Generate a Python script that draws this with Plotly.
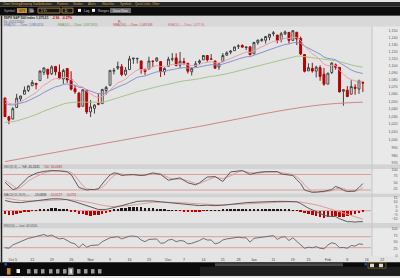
import plotly.graph_objects as go

W, H = 400, 278
FONT = "Liberation Sans, Arial, sans-serif"

# ---------------- data ----------------
dates = [
    "2009-10-01", "2009-10-02", "2009-10-05", "2009-10-06", "2009-10-07", "2009-10-08", "2009-10-09",
    "2009-10-12", "2009-10-13", "2009-10-14", "2009-10-15", "2009-10-16", "2009-10-19", "2009-10-20",
    "2009-10-21", "2009-10-22", "2009-10-23", "2009-10-26", "2009-10-27", "2009-10-28", "2009-10-29",
    "2009-10-30", "2009-11-02", "2009-11-03", "2009-11-04", "2009-11-05", "2009-11-06", "2009-11-09",
    "2009-11-10", "2009-11-11", "2009-11-12", "2009-11-13", "2009-11-16", "2009-11-17", "2009-11-18",
    "2009-11-19", "2009-11-20", "2009-11-23", "2009-11-24", "2009-11-25", "2009-11-27", "2009-11-30",
    "2009-12-01", "2009-12-02", "2009-12-03", "2009-12-04", "2009-12-07", "2009-12-08", "2009-12-09",
    "2009-12-10", "2009-12-11", "2009-12-14", "2009-12-15", "2009-12-16", "2009-12-17", "2009-12-18",
    "2009-12-21", "2009-12-22", "2009-12-23", "2009-12-24", "2009-12-28", "2009-12-29", "2009-12-30",
    "2009-12-31", "2010-01-04", "2010-01-05", "2010-01-06", "2010-01-07", "2010-01-08", "2010-01-11",
    "2010-01-12", "2010-01-13", "2010-01-14", "2010-01-15", "2010-01-19", "2010-01-20", "2010-01-21",
    "2010-01-22", "2010-01-25", "2010-01-26", "2010-01-27", "2010-01-28", "2010-01-29", "2010-02-01",
    "2010-02-02", "2010-02-03", "2010-02-04", "2010-02-05", "2010-02-08", "2010-02-09", "2010-02-10",
    "2010-02-11", "2010-02-12"]

opens = [1054.91, 1029.71, 1026.87, 1042.02, 1053.65, 1060.03, 1065.28, 1071.63, 1074.96, 1078.68, 1090.36,
         1094.67, 1088.22, 1098.64, 1090.36, 1080.96, 1095.62, 1080.36, 1067.54, 1061.51, 1043.69, 1065.41,
         1036.18, 1040.92, 1047.30, 1047.30, 1064.95, 1072.31, 1091.86, 1096.04, 1098.31, 1087.59, 1094.13,
         1109.22, 1109.44, 1106.44, 1094.66, 1094.86, 1105.83, 1106.49, 1105.47, 1091.07,
         1098.89, 1109.03, 1110.59, 1100.43, 1105.52, 1103.04, 1091.07, 1098.69, 1103.96, 1107.84, 1114.11,
         1108.61, 1106.36, 1097.86, 1105.31, 1114.51, 1118.84, 1121.08, 1127.53, 1128.55, 1125.53, 1126.60,
         1116.56, 1132.66, 1135.71, 1136.27, 1140.52, 1145.96, 1143.81, 1137.31, 1145.68, 1147.72, 1136.03,
         1147.95, 1138.68, 1115.49, 1092.40, 1095.80, 1091.94, 1096.93, 1087.61,
         1073.89, 1090.05, 1100.67, 1097.25, 1064.12, 1065.51, 1060.06, 1069.68, 1067.10, 1075.95]
highs = [1054.91, 1030.60, 1042.58, 1060.55, 1058.02, 1070.67, 1071.51, 1079.46, 1075.30, 1093.17, 1096.56,
         1094.67, 1100.17, 1098.64, 1101.36, 1095.21, 1095.83, 1091.75, 1072.48, 1063.26, 1066.83, 1065.41,
         1052.18, 1046.36, 1061.00, 1066.65, 1071.48, 1093.19, 1096.42, 1105.37, 1101.97, 1097.79, 1113.69,
         1110.52, 1111.10, 1106.44, 1094.66, 1112.38, 1107.56, 1111.18, 1105.47, 1097.24,
         1112.28, 1117.58, 1117.28, 1119.13, 1110.72, 1103.04, 1097.04, 1106.25, 1108.50, 1114.76, 1114.11,
         1116.21, 1106.36, 1103.74, 1117.68, 1120.27, 1121.58, 1126.48, 1130.38, 1130.38, 1126.42, 1127.64,
         1133.87, 1136.63, 1139.19, 1142.46, 1145.39, 1149.74, 1143.81, 1148.40, 1150.41, 1147.77, 1150.45,
         1147.95, 1141.58, 1115.49, 1102.97, 1103.69, 1099.51, 1100.22, 1096.45,
         1089.38, 1104.73, 1102.72, 1097.25, 1067.13, 1071.20, 1079.28, 1073.67, 1080.04, 1077.81]
lows = [1029.45, 1019.95, 1025.92, 1042.02, 1050.10, 1060.03, 1063.00, 1071.63, 1066.71, 1078.68, 1086.41,
        1081.53, 1086.48, 1086.16, 1080.77, 1074.31, 1075.49, 1065.23, 1060.62, 1042.19, 1043.69, 1033.38,
        1029.38, 1033.94, 1045.15, 1047.30, 1059.32, 1072.31, 1087.40, 1093.81, 1084.90, 1085.33, 1094.13,
        1102.19, 1102.70, 1088.40, 1086.81, 1094.86, 1097.63, 1104.75, 1083.74, 1086.25,
        1098.89, 1105.90, 1098.74, 1096.52, 1100.83, 1088.61, 1085.89, 1098.69, 1101.34, 1107.84, 1105.35,
        1107.96, 1095.88, 1093.88, 1105.31, 1114.51, 1116.00, 1121.08, 1123.51, 1126.08, 1121.94, 1114.81,
        1116.56, 1129.66, 1133.95, 1131.32, 1136.22, 1142.02, 1131.77, 1133.18, 1143.80, 1131.39, 1135.77,
        1129.25, 1114.84, 1090.18, 1092.40, 1089.86, 1083.11, 1078.46, 1071.59,
        1073.89, 1087.96, 1093.97, 1062.78, 1044.50, 1056.51, 1060.06, 1059.34, 1060.59, 1062.97]
closes = [1029.85, 1025.21, 1040.46, 1054.72, 1057.58, 1065.48, 1071.49, 1076.19, 1073.19, 1092.02, 1096.56,
          1087.68, 1097.91, 1091.06, 1081.40, 1092.91, 1079.60, 1066.95, 1063.41, 1042.63, 1066.11, 1036.19,
          1042.88, 1045.41, 1046.50, 1066.63, 1069.30, 1093.08, 1093.01, 1098.51, 1087.24, 1093.48, 1109.30,
          1110.32, 1109.80, 1094.90, 1091.38, 1106.24, 1105.65, 1110.63, 1091.49, 1095.63,
          1108.86, 1109.24, 1099.92, 1105.98, 1103.25, 1091.94, 1095.95, 1102.35, 1106.41, 1114.11, 1107.93,
          1109.18, 1096.08, 1102.47, 1114.05, 1118.02, 1120.59, 1126.48, 1127.78, 1126.20, 1126.42, 1115.10,
          1132.99, 1136.52, 1137.14, 1141.69, 1144.98, 1146.98, 1136.22, 1145.68, 1148.46, 1136.03, 1150.23,
          1138.04, 1116.48, 1091.76, 1096.78, 1092.17, 1097.50, 1084.53, 1073.87,
          1089.19, 1103.32, 1097.28, 1063.11, 1066.19, 1056.74, 1070.52, 1068.13, 1078.47, 1075.51]

ema10 = [1052.9, 1047.9, 1046.5, 1048.0, 1049.7, 1052.6, 1056.0, 1059.7, 1062.1, 1067.6,
         1072.8, 1075.5, 1079.6, 1081.7, 1081.6, 1083.7, 1082.9, 1080.0, 1077.0, 1070.8,
         1069.9, 1063.8, 1060.0, 1057.3, 1055.3, 1057.4, 1059.6, 1065.7, 1070.6, 1075.7,
         1077.8, 1080.6, 1085.9, 1090.3, 1093.8, 1094.0, 1093.6, 1095.9, 1097.7, 1100.0,
         1098.5, 1098.0, 1099.9, 1101.6, 1101.3, 1102.2, 1102.4, 1100.5, 1099.7, 1100.2,
         1101.3, 1103.6, 1104.4, 1105.3, 1103.6, 1103.4, 1105.3, 1107.6, 1110.0, 1113.0,
         1115.7, 1117.6, 1119.2, 1118.5, 1121.1, 1123.9, 1126.3, 1129.1, 1132.0, 1134.7,
         1135.0, 1136.9, 1139.0, 1138.5, 1140.6, 1140.1, 1135.8, 1127.8, 1122.2, 1116.7,
         1113.2, 1108.0, 1101.8, 1099.5, 1100.2, 1099.7, 1093.0, 1088.1, 1082.4, 1080.3,
         1078.1, 1078.1, 1077.6]
ema20 = [1048.1, 1045.9, 1045.4, 1046.3, 1047.4, 1049.1, 1051.2, 1053.6, 1055.5, 1059.0,
         1062.5, 1064.9, 1068.1, 1070.3, 1071.3, 1073.4, 1074.0, 1073.3, 1072.4, 1069.5,
         1069.2, 1066.1, 1063.9, 1062.1, 1060.6, 1061.2, 1062.0, 1064.9, 1067.6, 1070.6,
         1072.2, 1074.2, 1077.5, 1080.7, 1083.4, 1084.5, 1085.2, 1087.2, 1088.9, 1091.0,
         1091.1, 1091.5, 1093.1, 1094.7, 1095.2, 1096.2, 1096.9, 1096.4, 1096.4, 1096.9,
         1097.8, 1099.4, 1100.2, 1101.0, 1100.6, 1100.7, 1102.0, 1103.5, 1105.2, 1107.2,
         1109.2, 1110.8, 1112.3, 1112.5, 1114.5, 1116.6, 1118.5, 1120.7, 1123.0, 1125.3,
         1126.4, 1128.2, 1130.1, 1130.7, 1132.6, 1133.1, 1131.5, 1127.7, 1124.7, 1121.6,
         1119.3, 1116.0, 1112.0, 1109.9, 1109.2, 1108.1, 1103.8, 1100.2, 1096.1, 1093.7,
         1091.2, 1090.0, 1088.6]
ema50 = [1022.3, 1022.4, 1023.1, 1024.3, 1025.6, 1027.2, 1028.9, 1030.8, 1032.4, 1034.8,
         1037.2, 1039.2, 1041.5, 1043.4, 1044.9, 1046.8, 1048.0, 1048.8, 1049.3, 1049.1,
         1049.7, 1049.2, 1049.0, 1048.8, 1048.7, 1049.4, 1050.2, 1051.9, 1053.5, 1055.2,
         1056.5, 1057.9, 1059.9, 1061.9, 1063.8, 1065.0, 1066.0, 1067.6, 1069.1, 1070.7,
         1071.5, 1072.5, 1073.9, 1075.3, 1076.2, 1077.4, 1078.4, 1078.9, 1079.6, 1080.5,
         1081.5, 1082.8, 1083.8, 1084.8, 1085.2, 1085.9, 1087.0, 1088.2, 1089.5, 1090.9,
         1092.4, 1093.7, 1095.0, 1095.8, 1097.2, 1098.7, 1100.2, 1101.9, 1103.6, 1105.3,
         1106.5, 1108.0, 1109.6, 1110.6, 1112.2, 1113.2, 1113.3, 1112.5, 1111.9, 1111.1,
         1110.6, 1109.6, 1108.2, 1107.4, 1107.3, 1106.9, 1105.2, 1103.7, 1101.8, 1100.6,
         1099.3, 1098.5, 1097.6]
ma200_idx = [0, 10, 20, 30, 40, 50, 60, 70, 78, 84, 92]
ma200_val = [972.0, 981.0, 990.0, 999.0, 1008.0, 1017.0, 1027.0, 1037.0, 1043.5, 1047.0, 1049.3]

stoch_idx = [0, 1, 2, 3, 4, 6, 8, 10, 12, 14, 16, 17, 18, 19, 20, 21, 22, 23, 24, 25,
             26, 27, 28, 29, 30, 31, 33, 35, 36, 38, 40, 42, 43, 45, 47, 49, 50, 52, 54, 56,
             58, 60, 61, 63, 65, 67, 70, 71, 74, 75, 76, 77, 78, 79, 80, 82, 84, 85, 86, 87,
             88, 90, 91, 92]
stoch_k = [50, 35, 22, 25, 40, 70, 85, 92, 95, 94, 90, 80, 55, 30, 25, 20, 22, 22, 25, 45,
           62, 78, 86, 84, 76, 78, 80, 76, 78, 86, 80, 58, 62, 67, 48, 40, 48, 70, 72, 53,
           90, 95, 95, 80, 88, 91, 91, 82, 76, 60, 45, 20, 14, 11, 12, 15, 22, 34, 28, 19,
           14, 16, 30, 45]
stoch_d = [58, 48, 36, 27, 29, 55, 72, 86, 93, 94, 92, 88, 75, 55, 37, 25, 22, 21, 23, 31,
           44, 62, 75, 83, 82, 79, 78, 78, 77, 82, 83, 68, 63, 62, 56, 45, 45, 58, 70, 64,
           75, 90, 94, 87, 85, 89, 90, 87, 80, 70, 58, 40, 25, 15, 12, 13, 17, 24, 28, 26,
           19, 15, 20, 30]

macd_idx = [0, 2, 4, 6, 8, 10, 12, 14, 16, 18, 20, 22, 24, 26, 28, 30, 32, 34, 36, 38,
            40, 42, 44, 46, 48, 50, 52, 54, 56, 58, 60, 62, 64, 66, 68, 70, 72, 74,
            75, 76, 77, 78, 79, 80, 81, 82, 83, 84, 85, 86, 87, 88, 89, 90, 91, 92]
macd_line = [12, 10, 9.5, 10.5, 11.5, 13, 14, 14, 13, 10.5, 7.5, 4, 1.5, 1.5, 3.5, 6, 8.5, 11, 11.5, 11.5,
             10.5, 9.5, 9, 8, 6.5, 6, 6.5, 6, 6.5, 7.5, 9, 9.5, 10, 10.5, 11, 11, 11, 11,
             10.5, 8.5, 5.5, 3, 1, -1, -3, -5.5, -6.5, -6.5, -7, -9.5, -11, -13, -13, -13.5, -13, -13]
signal_idx = [0, 2, 4, 6, 8, 10, 12, 14, 16, 18, 20, 22, 24, 26, 28, 30, 32, 34, 36, 38,
              40, 42, 44, 46, 48, 50, 52, 54, 56, 58, 60, 62, 64, 66, 68, 70, 72, 74, 76, 78,
              80, 82, 84, 86, 88, 90, 92]
macd_signal = [15, 13.5, 12, 11.5, 11.3, 11.7, 12.3, 12.9, 13, 12.5, 11.2, 9.5, 7.4, 5.6, 4.8, 5, 6, 7.5, 8.8, 9.8,
               10.1, 10, 9.8, 9.3, 8.6, 7.9, 7.5, 7.1, 6.9, 7, 7.5, 8.1, 8.6, 9.2, 9.7, 10.1, 10.4, 10.6, 10.2, 8.9,
               6.9, 4.3, 1.8, -0.8, -4.0, -7.2, -10.0]
macd_hist = [-4.0, -5.0, -5.5, -4.5, -3.2, -2.0, -1.0, -0.4, 0.3, 1.2,
             2.0, 2.4, 2.8, 2.6, 2.2, 1.8, 1.2, -0.6, -2.0, -3.6,
             -4.4, -5.6, -6.0, -5.8, -5.0, -3.8, -2.4, -0.8, 0.8, 2.0,
             2.8, 3.3, 3.8, 4.2, 4.4, 4.0, 3.6, 3.2, 2.8, 2.2,
             1.6, 0.9, 0.5, 0.4, 0.2, -0.2, -0.6, -1.0, -1.3, -1.2,
             -0.8, -0.3, 0.3, 0.6, 0.5, 0.6, 0.9, 1.2, 1.5, 1.7,
             1.8, 1.8, 1.7, 1.5, 1.6, 1.7, 1.8, 1.7, 1.6, 1.5,
             1.3, 1.1, 0.9, 0.7, 0.6, 0.2, -1.2, -3.0, -4.5, -5.8,
             -6.8, -7.6, -8.4, -8.2, -7.6, -7.0, -7.4, -7.2, -6.6, -5.4,
             -4.4, -3.2, -2.2]

rsi = [30, 28, 40, 46, 52, 58, 64, 67, 70, 74,
       78, 72, 76, 68, 62, 64, 56, 48, 44, 30,
       44, 32, 38, 40, 40, 52, 58, 66, 68, 70,
       62, 66, 72, 72, 70, 58, 52, 60, 60, 62,
       46, 48, 58, 60, 52, 56, 54, 44, 46, 50,
       56, 64, 58, 58, 44, 48, 58, 62, 64, 68,
       68, 66, 66, 50, 64, 66, 68, 70, 72, 74,
       60, 68, 70, 56, 66, 54, 42, 28, 32, 30,
       34, 28, 26, 40, 48, 44, 30, 31, 28, 38,
       36, 44, 42]

tick_days = [2, 7, 12, 17, 22, 27, 32, 37, 42, 46, 51, 56, 60, 64, 69, 74, 78, 83, 88, 93, 97]
tick_text = ["Oct 5", "12", "19", "26", "Nov", "9", "16", "23", "Dec", "7", "14", "21", "28",
             "Jan", "11", "19", "25", "Feb", "8", "16", "22"]
price_ticks = [1150, 1140, 1130, 1120, 1110, 1100, 1090, 1080, 1070, 1060, 1050, 1040,
               1030, 1020, 1010, 1000, 990, 980, 970]
stoch_ticks = [25, 50, 75, 100]
macd_ticks = [-10, -5, 0, 5, 10, 15]
rsi_ticks = [0, 25, 50, 75, 100]

# ---------------- helpers ----------------
x = list(range(len(dates)))


def X(p):
    return p / W


def Y(p):
    return 1 - p / H


shapes = []
annotations = []


def rect(x0, y0, x1, y1, fill, line=None, lw=0, layer="below"):
    shapes.append(dict(type="rect", xref="paper", yref="paper", x0=X(x0), x1=X(x1), y0=Y(y1), y1=Y(y0),
                       fillcolor=fill, line=dict(color=line or fill, width=lw), layer=layer))


def text(s, x0, y0, color="#333", size=3.6, anchor="left", bold=False):
    annotations.append(dict(text=("<b>%s</b>" % s) if bold else s, x=X(x0), y=Y(y0), xref="paper", yref="paper",
                            xanchor=anchor, yanchor="middle", showarrow=False, borderpad=0,
                            font=dict(size=size, color=color, family=FONT)))


PANEL = "#e4e4e4"
BAND = "#d3d3d3"

fig = go.Figure()

# price panel lines (under candles)
fig.add_trace(go.Scatter(x=ma200_idx, y=ma200_val, mode="lines", line=dict(color="#cf8587", width=1, shape="spline"),
                         xaxis="x", yaxis="y", hoverinfo="skip"))
fig.add_trace(go.Scatter(x=x, y=ema50, mode="lines", line=dict(color="#a6c58a", width=1), xaxis="x", yaxis="y"))
fig.add_trace(go.Scatter(x=x, y=ema20, mode="lines", line=dict(color="#8593d0", width=1), xaxis="x", yaxis="y"))
fig.add_trace(go.Scatter(x=x, y=ema10, mode="lines", line=dict(color="#e6a0aa", width=1), xaxis="x", yaxis="y"))
fig.add_trace(go.Candlestick(x=x, open=opens, high=highs, low=lows, close=closes, xaxis="x", yaxis="y",
                             whiskerwidth=0,
                             increasing=dict(line=dict(color="#404040", width=1), fillcolor="#ffffff"),
                             decreasing=dict(line=dict(color="#b00000", width=1), fillcolor="#c40000")))

# stochastics
fig.add_trace(go.Scatter(x=stoch_idx, y=stoch_d, mode="lines", line=dict(color="#e29a9a", width=1), xaxis="x", yaxis="y2"))
fig.add_trace(go.Scatter(x=stoch_idx, y=stoch_k, mode="lines", line=dict(color="#5a5a5a", width=1), xaxis="x", yaxis="y2"))

# MACD
hist_colors = ["#1a1a1a" if v >= 0 else "#c00000" for v in macd_hist]
fig.add_trace(go.Bar(x=x, y=macd_hist, width=0.62, marker=dict(color=hist_colors, line=dict(width=0)),
                     xaxis="x", yaxis="y3"))
fig.add_trace(go.Scatter(x=signal_idx, y=macd_signal, mode="lines", line=dict(color="#e29a9a", width=1), xaxis="x", yaxis="y3"))
fig.add_trace(go.Scatter(x=macd_idx, y=macd_line, mode="lines", line=dict(color="#5a5a5a", width=1), xaxis="x", yaxis="y3"))

# RSI
fig.add_trace(go.Scatter(x=x, y=rsi, mode="lines", line=dict(color="#707070", width=1), xaxis="x", yaxis="y4"))

# ---------------- page furniture ----------------
# top menu + toolbar
rect(0, 0, 400, 4.6, "#272727")
rect(0, 4.6, 400, 13.4, "#0c0c0c")
rect(0, 13.4, 400, 14.2, "#3a3a3a")
menu = [("Chart Settings", 2), ("Drawing Tools", 20), ("Indicators", 38), ("Patterns", 56), ("Studies", 72),
        ("Alerts", 87), ("Watchlist", 101), ("Symbols", 119), ("Quick Links", 134), ("Other", 151)]
for s, px in menu:
    text(s, px, 2.4, color="#d9aa3c", size=3.0)
text("Symbol:", 3, 8.8, color="#b0b0b0", size=3.2)
rect(17, 6.2, 27, 11.2, "#c9963a")
text("SPX", 18, 8.8, color="#222", size=3.2)
rect(28.5, 6.2, 33.5, 11.2, "#5a5a5a")
text("Go", 29.2, 8.8, color="#eee", size=3.0)
rect(38, 6.2, 60, 11.2, "#161616", line="#c9963a", lw=0.8)
text("1 Yr", 40, 8.8, color="#ddd", size=3.2)
rect(62, 6.2, 73, 11.2, "#161616", line="#c9963a", lw=0.8)
text("D", 64, 8.8, color="#ddd", size=3.2)
rect(78, 7, 81, 10, "#f2f2f2")
text("Log", 82.5, 8.8, color="#c8c8c8", size=3.2)
rect(92, 7, 95, 10, "#f2f2f2")
text("Ranges", 96.5, 8.8, color="#c8c8c8", size=3.2)
rect(110, 6.2, 131, 11.2, "#6c6c6c")
text("Draw Now", 112, 8.8, color="#eeeeee", size=3.2)

# title area
rect(0, 14.2, 400, 25, "#d8d8d8")
text("$SPX S&P 500 Index", 2.5, 16.4, color="#1e1e1e", size=3.2, bold=True)
text("1,075.51", 35, 16.4, color="#1e1e1e", size=3.2, bold=True)
text("-2.96", 51, 16.4, color="#d00000", size=3.2, bold=True)
text("-0.27%", 61, 16.4, color="#d00000", size=3.2, bold=True)
text("Dt: 02/12/2010", 3, 20.2, color="#555", size=3.1)
text("R:", 117, 20.6, color="#555", size=3.1)
text("EMA(20) — Close, 1,088.6254", 2.5, 23.6, color="#5a6cc0", size=2.9)
text("EMA(50) — Close, 1,097.5915", 57, 23.6, color="#6a9a48", size=2.9)
text("SMA(200) — Close, 1,049.308", 112, 23.6, color="#c04848", size=2.9)
text("EMA(10) — Close, 1,077.56", 167, 23.6, color="#d46a80", size=2.9)

# indicator header bands
rect(0, 164.6, 400, 169.5, BAND)
text("SSO(5,3) — ", 3, 167.2, color="#555", size=3.1)
text("%K: 45.2631", 21, 167.2, color="#333", size=3.1)
text("%D: 30.0583", 43, 167.2, color="#c03030", size=3.1)
rect(0, 194.2, 400, 198, BAND)
text("MACD(12,26,9) — ", 3, 196.2, color="#555", size=3.1)
text("-13.0838", 33, 196.2, color="#333", size=3.1)
text("-10.0127", 49, 196.2, color="#c03030", size=3.1)
text("-3.0711", 65, 196.2, color="#c03030", size=3.1)
rect(0, 224.2, 400, 229.6, BAND)
text("RSI(14) — last: 42.0505", 3, 227, color="#555", size=3.1)

# right label column + separator
rect(372, 25, 400, 164.6, "#e9e9e9")
rect(372, 169.5, 400, 194.2, "#e9e9e9")
rect(372, 198, 400, 224.2, "#e9e9e9")
rect(372, 229.6, 400, 258, "#e9e9e9")
shapes.append(dict(type="line", xref="paper", yref="paper", x0=X(372), x1=X(372), y0=Y(258), y1=Y(25),
                   line=dict(color="#c6c6c6", width=1), layer="below"))
# left frame line
shapes.append(dict(type="line", xref="paper", yref="paper", x0=X(1.5), x1=X(1.5), y0=Y(264), y1=Y(14.2),
                   line=dict(color="#202020", width=1.5), layer="above"))

# indicator reference lines
for yref, val in [("y2", 80), ("y2", 20), ("y4", 70), ("y4", 30), ("y3", 0)]:
    shapes.append(dict(type="line", xref="paper", x0=X(3), x1=X(371), yref=yref, y0=val, y1=val,
                       line=dict(color="#dc9c9c", width=1), layer="below"))

# bottom toolbar
rect(0, 264, 400, 278, "#0b0b0b")
rect(200, 268.5, 400, 278, "#1e1e1e")
rect(4.5, 265, 7, 267.3, "#2050e0")
rect(215, 265, 343, 268.2, "#4a4a4a")
rect(364.5, 265, 366.8, 267.3, "#2050e0")
rect(368, 264.3, 386, 270, "#151515", line="#8a6a30", lw=0.8)
rect(370, 265.5, 374, 269, "#d8d8d8")
rect(379, 265.5, 383, 269, "#d8d8d8")
rect(7, 270, 10.5, 276.5, "#d08a2a")
rect(16.5, 271, 20, 275, "#f0f0f0")
icon_x = [27, 34, 41, 49, 56, 63, 77, 84, 91, 98]
for ix in icon_x:
    rect(ix, 271, ix + 3.5, 275.5, "#9a9a9a")
rect(68, 269.5, 73.5, 277, "#8a8a8a")
rect(69.5, 271, 72, 275.5, "#e0e0e0")

# ---------------- axes ----------------
xr = [(0 - 5) / 3.89, (400 - 5) / 3.89]
ax_common = dict(showgrid=False, zeroline=False, ticks="", showline=False, anchor="free", position=X(397.5),
                 side="left", tickfont=dict(size=3.6, color="#555", family=FONT), fixedrange=True)

fig.update_layout(
    width=W, height=H, autosize=False, margin=dict(l=0, r=0, t=0, b=0),
    paper_bgcolor=PANEL, plot_bgcolor="rgba(0,0,0,0)", showlegend=False,
    font=dict(family=FONT, size=4, color="#444"),
    bargap=0,
    shapes=shapes, annotations=annotations,
    xaxis=dict(domain=[0, 1], range=xr, anchor="y4", tickvals=tick_days, ticktext=tick_text,
               showgrid=False, zeroline=False, ticks="", showline=False,
               rangeslider=dict(visible=False), tickfont=dict(size=3.6, color="#444", family=FONT),
               tickangle=0, fixedrange=True),
    yaxis=dict(domain=[Y(164.6), Y(25)], type="log", range=[2.98621, 3.06306],
               tickvals=price_ticks, ticktext=["{:,}".format(v) for v in price_ticks], **ax_common),
    yaxis2=dict(domain=[Y(194.2), Y(169.5)], range=[7.0, 100.9], tickvals=stoch_ticks, **ax_common),
    yaxis3=dict(domain=[Y(224.2), Y(198)], range=[-14.5, 16.0], tickvals=macd_ticks, **ax_common),
    yaxis4=dict(domain=[Y(258), Y(229.6)], range=[-1.1, 100.5], tickvals=rsi_ticks, **ax_common),
)

fig.write_html("out.html", include_plotlyjs=True, config={"displayModeBar": False})
